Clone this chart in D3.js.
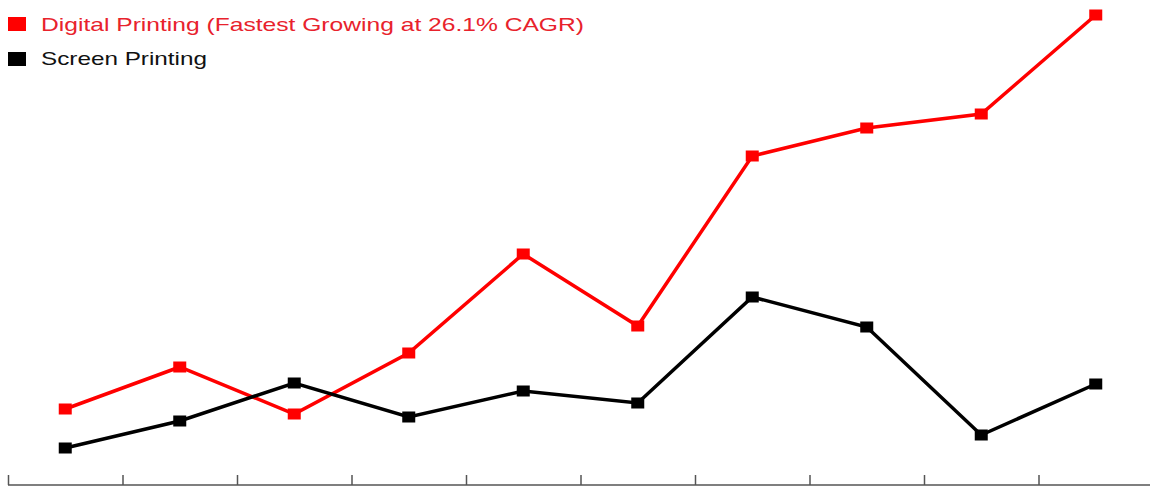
<!DOCTYPE html>
<html>
<head>
<meta charset="utf-8">
<script src="https://cdn.jsdelivr.net/npm/d3@7"></script>
<style>
  html, body { margin: 0; padding: 0; background: #fff; }
  svg { display: block; }
</style>
</head>
<body>
<svg id="chart" width="1150" height="487"></svg>
<script>
// ---- data ----
const categories = ["P1", "P2", "P3", "P4", "P5", "P6", "P7", "P8", "P9", "P10"];
const digitalPrinting = [7.6, 11.8, 7.1, 13.2, 23.1, 15.9, 32.9, 35.7, 37.1, 47.0];
const screenPrinting = [3.7, 6.4, 10.2, 6.8, 9.4, 8.2, 18.8, 15.8, 5.0, 10.1];
const seriesNames = ["Digital Printing (Fastest Growing at 26.1% CAGR)", "Screen Printing"];

const W = 1150, H = 487;
const svg = d3.select("#chart");

const x = d3.scaleBand().domain(categories).range([8, 1153]).paddingInner(0).paddingOuter(0);
const xEdge = d3.scaleLinear().domain([0, categories.length]).range([8, 1153]);
const y = d3.scaleLinear().domain([0, 47]).range([485, 15]);

// axis with ticks at category boundaries, pointing up
const axis = d3.axisBottom(xEdge)
  .tickValues(d3.range(0, categories.length + 1))
  .tickSize(-10)
  .tickSizeOuter(0)
  .tickFormat("");
const gAxis = svg.append("g").attr("transform", "translate(0,485)").call(axis);
gAxis.select(".domain").attr("stroke", "#555").attr("stroke-width", 1.5).attr("d", "M8,0H1150");
gAxis.selectAll(".tick line").attr("stroke", "#555").attr("stroke-width", 1.5);

const series = [
  { name: seriesNames[0], values: digitalPrinting, color: "#ff0000", text: "#e8222c" },
  { name: seriesNames[1], values: screenPrinting, color: "#000000", text: "#111111" }
];

const line = d3.line()
  .x((d, i) => x(categories[i]) + x.bandwidth() / 2)
  .y(d => y(d));

// draw screen first then digital on top? Reference: red appears under black at crossings mostly
const drawOrder = [series[0], series[1]];
drawOrder.forEach(s => {
  svg.append("path")
    .datum(s.values)
    .attr("fill", "none")
    .attr("stroke", s.color)
    .attr("stroke-width", 3.5)
    .attr("stroke-linejoin", "miter")
    .attr("d", line);
  svg.append("g").selectAll("rect")
    .data(s.values)
    .join("rect")
    .attr("x", (d, i) => x(categories[i]) + x.bandwidth() / 2 - 6.5)
    .attr("y", d => y(d) - 5.5)
    .attr("width", 13)
    .attr("height", 11)
    .attr("fill", s.color);
});

// legend
const legend = [
  { s: series[0], ys: 17, yt: 31, len: 543 },
  { s: series[1], ys: 52, yt: 65, len: 166 }
];
legend.forEach(l => {
  svg.append("rect")
    .attr("x", 8).attr("y", l.ys).attr("width", 18).attr("height", 14)
    .attr("fill", l.s.color);
  svg.append("text")
    .attr("x", 41).attr("y", l.yt)
    .attr("font-family", "Liberation Sans, Arial, sans-serif")
    .attr("font-size", 19)
    .attr("textLength", l.len)
    .attr("lengthAdjust", "spacingAndGlyphs")
    .attr("fill", l.s.text)
    .text(l.s.name);
});
</script>
</body>
</html>
